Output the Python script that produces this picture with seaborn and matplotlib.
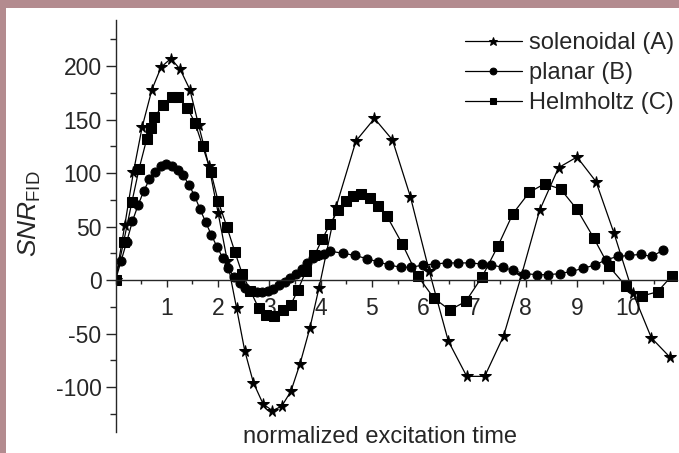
import numpy as np
import pandas as pd
import seaborn as sns
import matplotlib.pyplot as plt
from matplotlib.patches import Rectangle
from matplotlib.ticker import MultipleLocator

# --- data ---
sol_x = [0, 0.18, 0.35, 0.52, 0.71, 0.89, 1.08, 1.26, 1.45, 1.62, 1.82, 2.00, 2.18, 2.36,
         2.52, 2.69, 2.88, 3.06, 3.24, 3.42, 3.60, 3.79, 3.97, 4.30, 4.69, 5.05, 5.40, 5.75,
         6.12, 6.49, 6.85, 7.20, 7.57, 7.92, 8.27, 8.64, 9.00, 9.37, 9.72, 10.09, 10.45, 10.81]
sol_y = [0, 51, 101, 143, 178, 199, 207, 197, 178, 145, 107, 63, 18, -26,
         -66, -96, -116, -122, -118, -104, -78, -45, -7, 68, 130, 151, 131, 78,
         8, -57, -90, -90, -52, 5, 65, 105, 115, 92, 44, -12, -54, -72]

pla_x = [0, 0.11, 0.22, 0.33, 0.44, 0.55, 0.66, 0.77, 0.88, 0.99, 1.10, 1.21, 1.32, 1.43,
         1.54, 1.65, 1.76, 1.87, 1.98, 2.09, 2.20, 2.31, 2.42, 2.53, 2.64, 2.75, 2.86, 2.97,
         3.08, 3.19, 3.30, 3.41, 3.52, 3.63, 3.74, 3.85, 3.96, 4.07, 4.18, 4.44, 4.67, 4.90,
         5.12, 5.34, 5.56, 5.77, 6.00, 6.23, 6.46, 6.68, 6.91, 7.14, 7.33, 7.55, 7.75, 7.98,
         8.22, 8.44, 8.66, 8.89, 9.12, 9.35, 9.57, 9.79, 10.02, 10.24, 10.46, 10.68]
pla_y = [0, 18, 36, 55, 70, 83, 94, 101, 107, 108, 107, 103, 98, 89,
         79, 66, 54, 42, 31, 21, 11, 3, -3, -7, -10, -11, -11, -10,
         -8, -5, -2, 2, 6, 10, 16, 21, 23, 24, 27, 25, 23, 20,
         17, 14, 12, 12, 14, 15, 16, 16, 16, 15, 14, 12, 9, 6,
         5, 5, 6, 8, 11, 14, 19, 22, 23, 24, 22, 28]

hel_x = [0, 0.16, 0.32, 0.46, 0.61, 0.69, 0.76, 0.93, 1.10, 1.22, 1.40, 1.55, 1.70, 1.86,
         2.00, 2.17, 2.33, 2.47, 2.63, 2.79, 2.93, 3.10, 3.26, 3.42, 3.56, 3.71, 3.88, 4.03,
         4.18, 4.34, 4.49, 4.64, 4.78, 4.96, 5.12, 5.29, 5.59, 5.89, 6.21, 6.52, 6.83, 7.15,
         7.46, 7.75, 8.07, 8.37, 8.68, 9.00, 9.33, 9.62, 9.96, 10.26, 10.57, 10.85]
hel_y = [0, 36, 73, 104, 132, 142, 152, 164, 171, 171, 161, 147, 125, 101,
         74, 50, 26, 6, -10, -26, -33, -34, -28, -23, -9, 8, 23, 38,
         52, 65, 74, 79, 80, 77, 69, 60, 34, 4, -17, -28, -20, 3,
         32, 62, 82, 90, 85, 66, 39, 13, -6, -15, -11, 4]

labels = ["solenoidal (A)", "planar (B)", "Helmholtz (C)"]
markers = ["*", "o", "s"]

sns.set_style("ticks")
plt.rcParams["font.family"] = ["Liberation Sans", "DejaVu Sans"]
plt.rcParams["axes.unicode_minus"] = False
plt.rcParams["mathtext.fontset"] = "custom"
plt.rcParams["mathtext.rm"] = "Liberation Sans"
plt.rcParams["mathtext.it"] = "Liberation Sans:italic"

fig = plt.figure(figsize=(6.79, 4.53), dpi=100)
fig.patch.set_facecolor("#b38b8f")
fig.add_artist(Rectangle((6 / 679, 0), 1, 445 / 453, transform=fig.transFigure,
                         facecolor="white", edgecolor="none", zorder=0))
ax = fig.add_axes([115.5 / 679, 21 / 453, 561.5 / 679, 412 / 453])
ax.patch.set_alpha(0)

sizes = [8.5, 6.5, 6.5]
for name, xs, ys, mk, ms in zip(labels, [sol_x, pla_x, hel_x], [sol_y, pla_y, hel_y], markers, sizes):
    df = pd.DataFrame({"t": xs, "snr": ys})
    sns.lineplot(data=df, x="t", y="snr", ax=ax, color="black", marker=mk, markersize=ms,
                 markeredgecolor="black", linewidth=0.9, label=name, estimator=None, sort=False)

sns.despine(ax=ax)
ax.spines["bottom"].set_position(("data", 0))
for s in ["left", "bottom"]:
    ax.spines[s].set_linewidth(1.0)

ax.set_xlim(0, 10.95)
ax.set_ylim(-142, 243)
ax.set_xticks(range(1, 11))
ax.xaxis.set_minor_locator(MultipleLocator(0.5))
ax.set_yticks(range(-100, 201, 50))
ax.yaxis.set_minor_locator(MultipleLocator(25))
ax.tick_params(axis="x", which="major", direction="out", length=5, width=1, pad=7, labelsize=16.5)
ax.tick_params(axis="x", which="minor", direction="out", length=3, width=1)
ax.tick_params(axis="y", which="major", direction="out", length=7, width=1, pad=3, labelsize=16.5)
ax.tick_params(axis="y", which="minor", direction="out", length=4, width=1)

ax.set_xlabel("normalized excitation time", fontsize=17)
ax.xaxis.set_label_coords(0.471, -0.012)
ax.xaxis.label.set_verticalalignment("center")
ax.set_ylabel(r"$SNR_{\mathrm{FID}}$", fontsize=19)
ax.yaxis.set_label_coords(-0.152, 0.53)
ax.yaxis.label.set_verticalalignment("center")

ax.legend(loc="upper right", bbox_to_anchor=(674 / 679, 421 / 453), bbox_transform=fig.transFigure,
          frameon=False, fontsize=17, handlelength=2.4, handletextpad=0.3, markerscale=0.75,
          labelspacing=0.34, borderpad=0, borderaxespad=0)

plt.savefig("out.png", dpi=100, facecolor=fig.get_facecolor())
